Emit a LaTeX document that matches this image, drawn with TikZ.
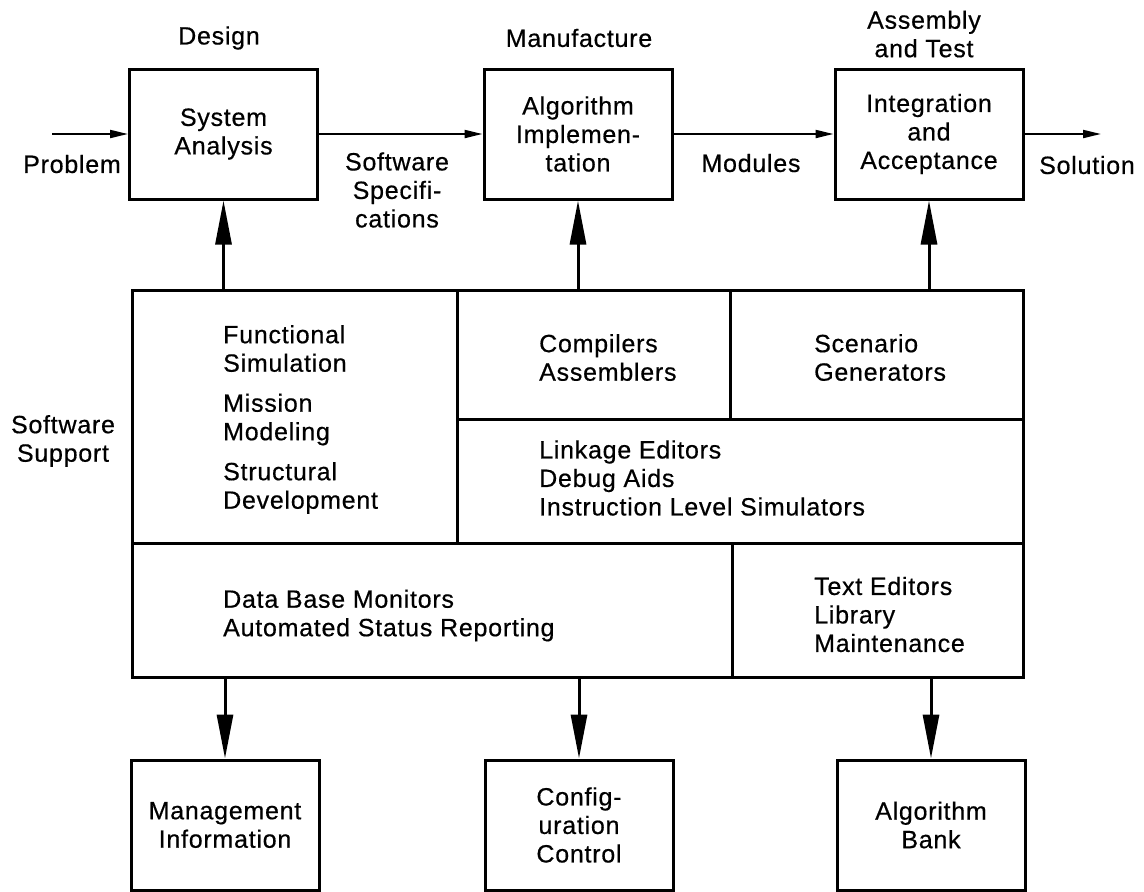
\documentclass[tikz,border=0pt]{standalone}
\usepackage{fontspec}
\setmainfont{Liberation Sans}[LetterSpace=3,FakeBold=0.5]
\usetikzlibrary{arrows.meta}
\begin{document}
\begin{tikzpicture}[x=1pt,y=-1pt,
  font=\fontsize{25}{28.5}\selectfont,
  box/.style={draw, line width=3pt, minimum width=188pt, minimum height=130pt,
    inner sep=0pt, align=center},
  lbl/.style={inner sep=0pt, align=center},
  lbll/.style={inner sep=0pt, align=left, anchor=west},
  cell/.style={line width=3pt},
  flow/.style={line width=2pt, -{Triangle[length=18pt,width=8pt]}},
  feed/.style={line width=3pt, -{Triangle[length=44pt,width=16pt]}}]
\useasboundingbox (0,0) rectangle (1144,892);

% life-cycle stages
\node[box] (sa) at (223.5,134) {System\\Analysis};
\node[box] (ai) at (578,134) {Algorithm\\Implemen-\\tation};
\node[box] (ia) at (929,134) {Integration\\and\\Acceptance};

\node[lbl] (design) at (219,38) {Design};
\node[lbl] (manuf) at (579,38) {Manufacture};
\node[lbl] (asmtest) at (924,34) {Assembly\\and Test};

% flow along the top
\coordinate (pin) at (52,134);
\coordinate (pout) at (1101,134);
\draw[flow] (pin) -- (sa.west);
\draw[flow] (sa.east) -- (ai.west);
\draw[flow] (ai.east) -- (ia.west);
\draw[flow] (ia.east) -- (pout);

\node[lbl] (problem) at (72,164) {Problem};
\node[lbl] (specs) at (397,190) {Software\\Specifi-\\cations};
\node[lbl] (modules) at (751,163) {Modules};
\node[lbl] (solution) at (1087,165) {Solution};

% software support block and its cells
\node[draw, line width=3pt, minimum width=891pt, minimum height=387pt, inner sep=0pt]
  (sup) at (577.5,483.5) {};
\draw[cell] (457,290) -- (457,543);
\draw[cell] (457,419) -- (1023,419);
\draw[cell] (730,290) -- (730,419);
\draw[cell] (132,543) -- (1023,543);
\draw[cell] (732,543) -- (732,677);

\node[lbl] (swsup) at (63,441) {Software\\Support};
\node[lbll] (func) at (223,419.5)
  {Functional\\Simulation\\[11.5pt]Mission\\Modeling\\[11.5pt]Structural\\Development};
\node[lbll] (comp) at (539,357.5) {Compilers\\Assemblers};
\node[lbll] (scen) at (814,357.5) {Scenario\\Generators};
\node[lbll] (link) at (539,478) {Linkage Editors\\Debug Aids\\Instruction Level Simulators};
\node[lbll] (dbm) at (223,615.5) {Data Base Monitors\\Automated Status Reporting};
\node[lbll] (edit) at (814,614.5) {Text Editors\\Library\\Maintenance};

% products
\node[box] (mi) at (225,825) {Management\\Information};
\node[box] (cc) at (579,825) {Config-\\uration\\Control};
\node[box] (ab) at (931,825) {Algorithm\\Bank};

% support feeds the stages and the products
\draw[feed] (sup.north -| sa.south) -- (sa.south);
\draw[feed] (sup.north -| ai.south) -- (ai.south);
\draw[feed] (sup.north -| ia.south) -- (ia.south);
\draw[feed] (sup.south -| mi.north) -- (mi.north);
\draw[feed] (sup.south -| cc.north) -- (cc.north);
\draw[feed] (sup.south -| ab.north) -- (ab.north);
\end{tikzpicture}
\end{document}
